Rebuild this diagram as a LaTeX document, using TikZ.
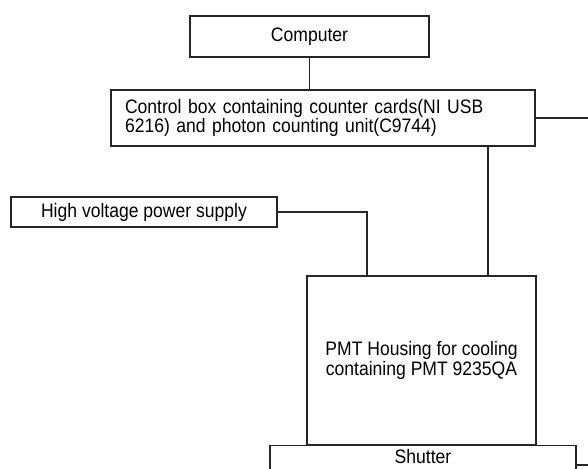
\documentclass[tikz,border=0pt]{standalone}
\usepackage{fontspec}
\setmainfont{Liberation Sans}[FakeStretch=0.9]
\begin{document}
\begin{tikzpicture}[x=1pt,y=-1pt,
    box/.style={draw=black!85, line width=1.1pt, inner sep=0pt, font=\fontsize{19.5}{17.5}\selectfont},
    link/.style={draw=black!85, line width=1.1pt}]
  \useasboundingbox (0,0) rectangle (588,468);
  \clip (0,0) rectangle (588,468);
  \node[box, minimum width=239pt, minimum height=41pt] (pc) at (309.5,36.5) {Computer};
  \node[box, text width=396pt, inner xsep=14pt, align=left, minimum height=56pt] (ctrl) at (323,118)
    {Control box containing counter cards(NI USB\\6216) and photon counting unit(C9744)};
  \node[box, minimum width=266pt, minimum height=30pt] (hv) at (144,212) {High voltage power supply};
  \node[box, minimum width=229pt, minimum height=169pt, align=center] (pmt) at (421.5,360.5)
    {PMT Housing for cooling\\containing PMT 9235QA};
  % bottom part of the shutter lies below the page
  \node[box, minimum width=306pt, minimum height=40pt, text height=14pt, text depth=18pt,
    anchor=north] (shut) at (423,445) {Shutter};
  \coordinate (ctrl-out) at (588,118);
  \coordinate (shut-out) at (588,465);
  \begin{scope}[link]
    \draw (pc.south) -- (pc.south |- ctrl.north);
    \draw (ctrl.south -| 488,0) -- (pmt.north -| 488,0);
    \draw (hv.east) -| (pmt.north -| 367,0);
    \draw (ctrl.east) -- (ctrl-out);
    \draw (shut-out -| shut.east) -- (shut-out);
  \end{scope}
\end{tikzpicture}
\end{document}
